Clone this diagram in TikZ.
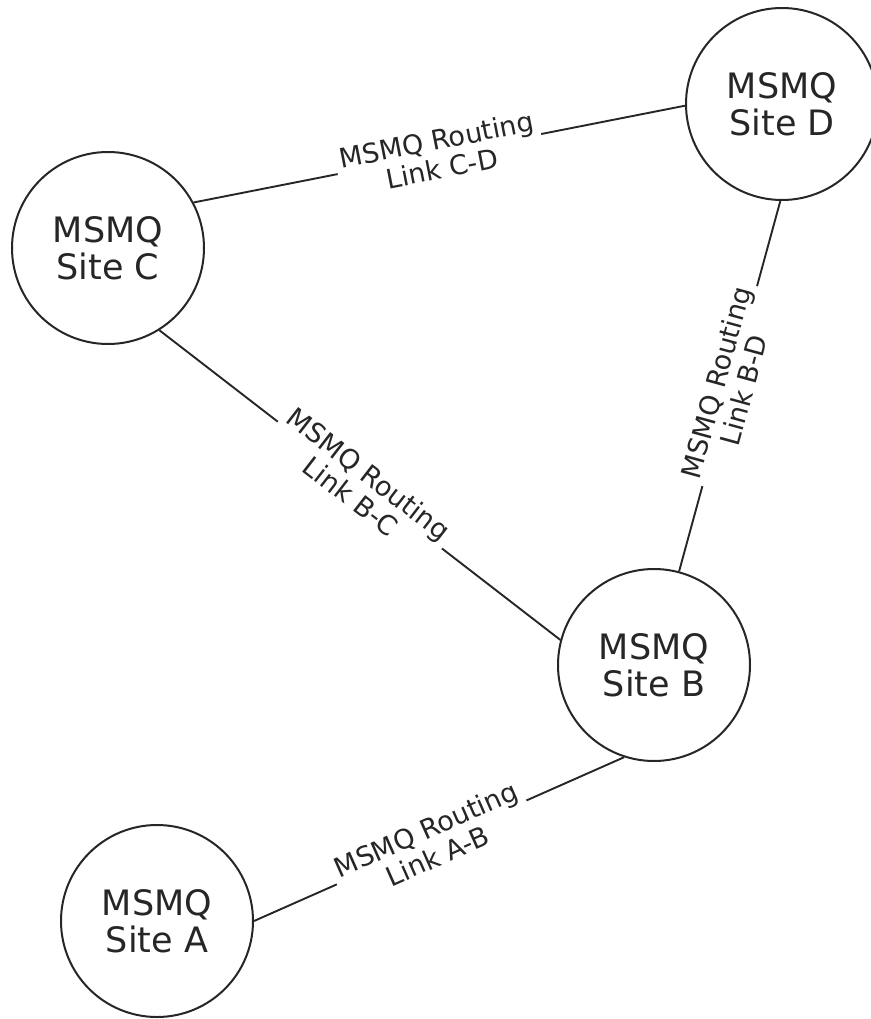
\documentclass[tikz,border=0pt]{standalone}
\usepackage{fontspec}
\setmainfont{DejaVu Sans}
\begin{document}
\begin{tikzpicture}[x=1pt,y=-1pt,
  site/.style={circle, draw=black!85, line width=2pt, minimum size=192pt, inner sep=0pt, align=center, font=\fontsize{35}{37}\selectfont, text=black!85},
  link/.style={draw=black!85, line width=1.9pt},
  lbl/.style={sloped, fill=white, align=center, inner xsep=5pt, inner ysep=1pt, font=\fontsize{27}{29}\selectfont, text=black!85}]
\useasboundingbox (0,0) rectangle (870,1019);
\node[site] (D) at (782,104) {MSMQ\\Site D};
\node[site] (C) at (108,248) {MSMQ\\Site C};
\node[site] (B) at (654,665) {MSMQ\\Site B};
\node[site] (A) at (157,921) {MSMQ\\Site A};
\draw[link] (C.28) -- node[lbl] (lcd) {MSMQ Routing\\Link C-D} (D.181);
\draw[link] (C.-58) -- node[lbl] (lbc) {MSMQ Routing\\Link B-C} (B.165);
\draw[link] (B.75) -- node[lbl] (lbd) {MSMQ Routing\\Link B-D} (D.-91);
\draw[link] (A.0) -- node[lbl, pos=0.48] (lab) {MSMQ Routing\\Link A-B} (B.252);
\end{tikzpicture}
\end{document}
